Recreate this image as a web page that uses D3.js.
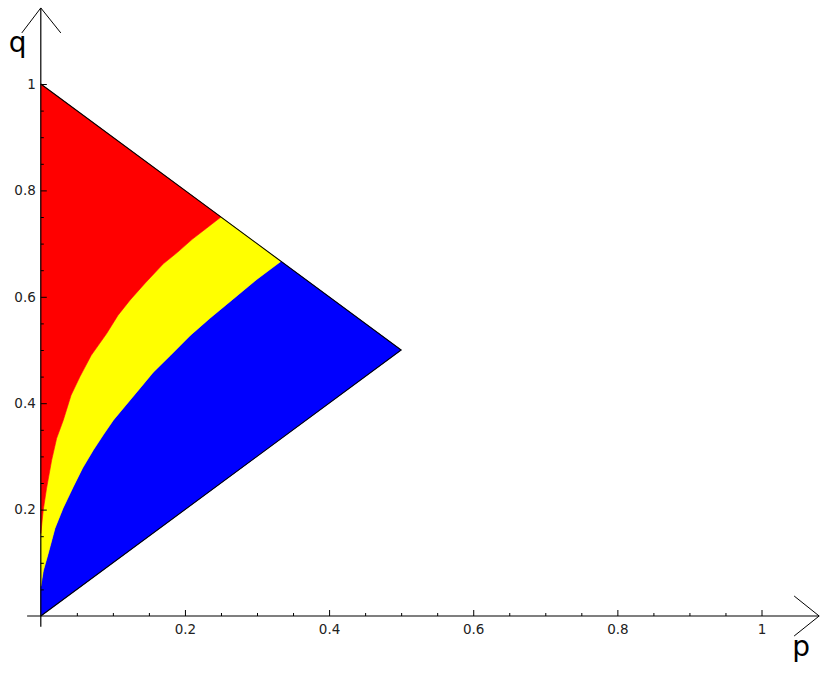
<!DOCTYPE html>
<html>
<head>
<meta charset="utf-8">
<script src="https://cdn.jsdelivr.net/npm/d3@7"></script>
<style>
  html, body { margin: 0; padding: 0; background: #fff; }
  svg { display: block; font-family: "DejaVu Sans", sans-serif; }
  .tick text { font-family: "DejaVu Sans", sans-serif; font-size: 13.5px; fill: #222; }
  .axis-label { font-family: "DejaVu Sans", sans-serif; font-size: 28px; fill: #000; }
</style>
</head>
<body>
<svg id="chart" width="837" height="693"></svg>
<script>
// ---- data ----
const triangle = [[0, 0], [0.5, 0.5], [0, 1]];
// boundary between red (above) and yellow (below), p -> q
const redYellowBoundary = [
  [0, 0.155], [0.0035, 0.2], [0.008, 0.24], [0.0151, 0.293], [0.022, 0.334], [0.0312, 0.368],
  [0.042, 0.415], [0.0544, 0.45], [0.07, 0.49], [0.0914, 0.531], [0.107, 0.565], [0.124, 0.594],
  [0.145, 0.626], [0.17, 0.662], [0.19, 0.684], [0.21, 0.708], [0.23, 0.729], [0.25, 0.75]
];
// boundary between yellow (above) and blue (below), p -> q
const yellowBlueBoundary = [
  [0, 0.056], [0.0035, 0.085], [0.01, 0.116], [0.0197, 0.165], [0.031, 0.203], [0.0451, 0.243],
  [0.058, 0.278], [0.0729, 0.312], [0.087, 0.341], [0.1006, 0.368], [0.124, 0.406], [0.14, 0.432],
  [0.156, 0.458], [0.18, 0.49], [0.207, 0.527], [0.235, 0.56], [0.267, 0.596], [0.3, 0.633], [0.3333, 0.6667]
];
const regionNames = ["blue", "yellow", "red"];
const regionColors = ["#0000ff", "#ffff00", "#ff0000"];
const pMajorTicks = [0.2, 0.4, 0.6, 0.8, 1];
const qMajorTicks = [0.2, 0.4, 0.6, 0.8, 1];
const pMinorTicks = [0.05, 0.1, 0.15, 0.25, 0.3, 0.35, 0.45, 0.5, 0.55, 0.65, 0.7, 0.75, 0.85, 0.9, 0.95];
const qMinorTicks = [0.05, 0.1, 0.15, 0.25, 0.3, 0.35, 0.45, 0.5, 0.55, 0.65, 0.7, 0.75, 0.85, 0.9, 0.95];
const pAxisExtent = [-0.019, 1.08];
const qAxisExtent = [-0.02, 1.143];
const pLabel = "p", qLabel = "q";

// ---- scales ----
const x = d3.scaleLinear().domain([0, 1]).range([40.8, 761.5]);
const y = d3.scaleLinear().domain([0, 1]).range([616, 84]);
const svg = d3.select("#chart");
const line = d3.line().x(d => x(d[0])).y(d => y(d[1]));

// ---- regions ----
const [O, A, T] = triangle; // origin, apex, top
const blueRegion = [O, A, ...yellowBlueBoundary.slice().reverse()];
const yellowRegion = [...yellowBlueBoundary, ...redYellowBoundary.slice().reverse()];
const redRegion = [...redYellowBoundary, T];
const regions = [blueRegion, yellowRegion, redRegion];

svg.append("g").selectAll("path")
  .data(regions)
  .join("path")
  .attr("class", (d, i) => "region " + regionNames[i])
  .attr("d", d => line(d) + "Z")
  .attr("fill", (d, i) => regionColors[i])
  .attr("stroke", (d, i) => regionColors[i])
  .attr("stroke-width", 0.6);

// triangle outline (diagonal edges)
svg.append("path")
  .attr("d", line([O, A, T]))
  .attr("fill", "none")
  .attr("stroke", "#000")
  .attr("stroke-width", 1.1);

// ---- axes ----
const gx = svg.append("g").attr("transform", `translate(0,${y(0)})`);
gx.call(d3.axisBottom(x).tickValues(pMajorTicks).tickSize(-6).tickPadding(8)
  .tickFormat(d3.format("~g")));
gx.append("g").call(d3.axisBottom(x).tickValues(pMinorTicks).tickSize(-3).tickFormat(""));
gx.selectAll(".domain").remove();

const gy = svg.append("g").attr("transform", `translate(${x(0)},0)`);
gy.call(d3.axisLeft(y).tickValues(qMajorTicks).tickSize(-6).tickPadding(5)
  .tickFormat(d3.format("~g")));
gy.append("g").call(d3.axisLeft(y).tickValues(qMinorTicks).tickSize(-3).tickFormat(""));
gy.selectAll(".domain").remove();

svg.selectAll(".tick line").attr("stroke", "#000").attr("stroke-width", 1);

// axis lines with arrowheads
const xTip = x(pAxisExtent[1]), yTip = y(qAxisExtent[1]);
svg.append("line")
  .attr("x1", x(pAxisExtent[0])).attr("x2", xTip)
  .attr("y1", y(0)).attr("y2", y(0))
  .attr("stroke", "#000").attr("stroke-width", 1.2);
svg.append("line")
  .attr("x1", x(0)).attr("x2", x(0))
  .attr("y1", y(qAxisExtent[0])).attr("y2", yTip)
  .attr("stroke", "#000").attr("stroke-width", 1.2);
svg.append("path")
  .attr("d", `M${xTip - 25},${y(0) - 20}L${xTip},${y(0)}L${xTip - 25},${y(0) + 20}`)
  .attr("fill", "none").attr("stroke", "#000").attr("stroke-width", 1);
svg.append("path")
  .attr("d", `M${x(0) - 19},${yTip + 25}L${x(0)},${yTip}L${x(0) + 20},${yTip + 25}`)
  .attr("fill", "none").attr("stroke", "#000").attr("stroke-width", 1);

// axis labels
svg.append("text").attr("class", "axis-label")
  .attr("x", xTip - 27).attr("y", y(0) + 40)
  .text(pLabel);
svg.append("text").attr("class", "axis-label")
  .attr("x", x(0) - 32).attr("y", yTip + 44)
  .text(qLabel);
</script>
</body>
</html>
